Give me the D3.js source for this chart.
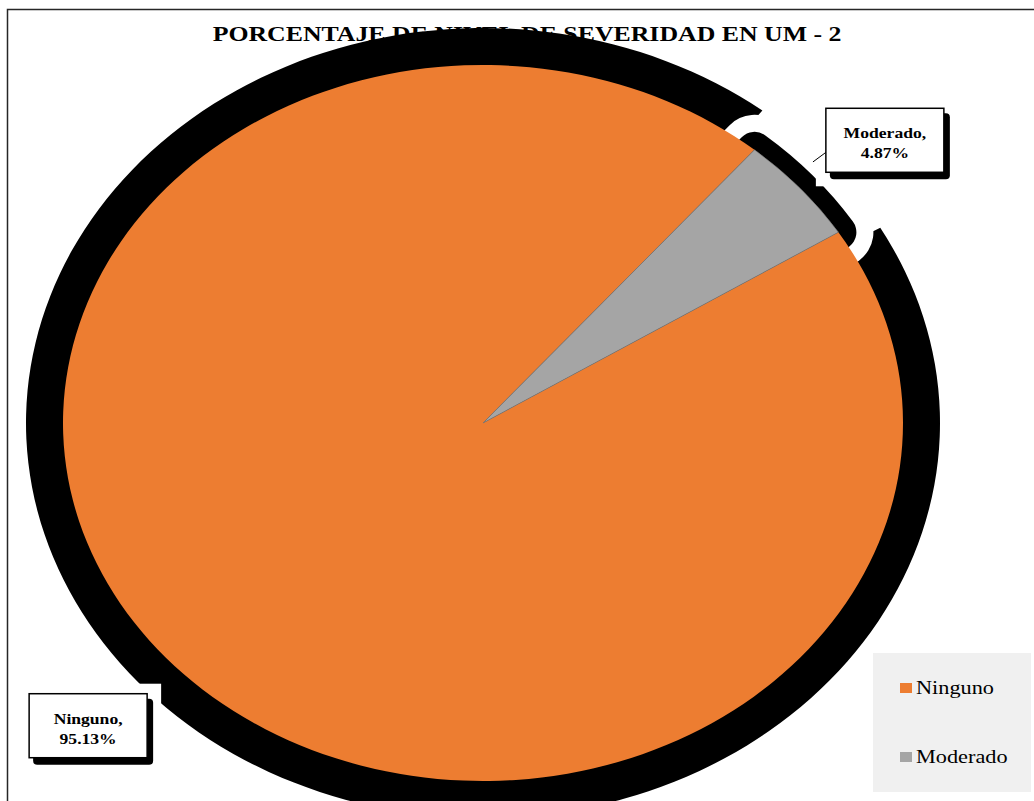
<!DOCTYPE html>
<html>
<head>
<meta charset="utf-8">
<script src="https://cdn.jsdelivr.net/npm/d3@7"></script>
<style>
  body { margin: 0; background: #fff; }
  svg { display: block; }
</style>
</head>
<body>
<div id="chart"></div>
<script>
// datos
const title = 'PORCENTAJE DE NIVEL DE SEVERIDAD EN UM - 2'
const categories = ['Ninguno', 'Moderado']
const values = [95.13, 4.87]
const valueLabels = ['95.13%', '4.87%']
const colors = ['#ED7D31', '#A5A5A5']

const W = 1034, H = 801
const cx = 483, cy = 423
const ry = 358, rx = 420
const k = rx / ry            // el gráfico original está estirado en horizontal
const shadowGrow = 37
const rot = 57.8 * Math.PI / 180
const serif = "'Liberation Serif', 'Times New Roman', serif"

const svg = d3.select('#chart').append('svg').attr('width', W).attr('height', H)

// marco
svg.append('rect').attr('x', 7.5).attr('y', 9.5).attr('width', W).attr('height', H)
  .attr('fill', 'none').attr('stroke', '#262626').attr('stroke-width', 1.5)

// título (queda debajo de la sombra)
svg.append('g').attr('transform', `translate(527, 41) scale(${k},1)`)
  .append('text').text(title)
  .attr('text-anchor', 'middle')
  .style('font-family', serif).style('font-weight', 'bold').style('font-size', '22px')
  .style('fill', '#000')

const pie = d3.pie().sort(null).value(d => d).startAngle(rot).endAngle(rot + 2 * Math.PI)
const arcs = pie(values)
const arc = d3.arc().innerRadius(0).outerRadius(ry)
const shadowR = ry + shadowGrow
const shadowArc = d3.arc().innerRadius(0).outerRadius(shadowR).padAngle(0.09).padRadius(shadowR)

// sombras
const sk = (rx + shadowGrow) / shadowR
svg.append('g').attr('transform', `translate(${cx},${cy}) scale(${sk},1)`)
  .append('path').attr('d', shadowArc(arcs[0])).attr('fill', '#000')

const pieG = svg.append('g').attr('transform', `translate(${cx},${cy}) scale(${k},1)`)
pieG.append('path').attr('d', arc(arcs[1]))
  .attr('fill', '#fff').attr('stroke', '#fff').attr('stroke-width', 70)
  .attr('stroke-linejoin', 'round').attr('vector-effect', 'non-scaling-stroke')
pieG.append('path').attr('d', arc(arcs[1]))
  .attr('fill', '#000').attr('stroke', '#000').attr('stroke-width', 36)
  .attr('stroke-linejoin', 'round').attr('vector-effect', 'non-scaling-stroke')

// etiquetas: posición
const labelArc = d3.arc().innerRadius(448).outerRadius(448)
const boxW = 118, boxH = 64
const labelShift = [[2, 9], [5, 11]]
const labelPos = arcs.map((a, i) => {
  const c = labelArc.centroid(a)
  return [cx + c[0] * k + labelShift[i][0], cy + c[1] + labelShift[i][1]]
})

// fondo blanco de las etiquetas
labelPos.forEach(p => {
  svg.append('rect').attr('x', p[0] - boxW / 2 - 10).attr('y', p[1] - boxH / 2 - 10)
    .attr('width', boxW + 24).attr('height', boxH + 24).attr('fill', '#fff')
})

// sectores
pieG.selectAll('path.slice').data(arcs).enter().append('path')
  .classed('slice', true)
  .attr('d', arc)
  .attr('fill', (d, i) => colors[i])
  .attr('stroke', (d, i) => i === 1 ? '#7a7a7a' : 'none')
  .attr('stroke-width', 0.6)
  .attr('vector-effect', 'non-scaling-stroke')

// línea guía de Moderado
const l1 = d3.arc().innerRadius(386).outerRadius(386).centroid(arcs[1])
const l2 = d3.arc().innerRadius(404).outerRadius(404).centroid(arcs[1])
svg.append('line')
  .attr('x1', cx + l1[0] * k - 12).attr('y1', cy + l1[1] - 8)
  .attr('x2', cx + l2[0] * k - 12).attr('y2', cy + l2[1] - 8)
  .attr('stroke', '#000').attr('stroke-width', 1)

// cajas de etiquetas
labelPos.forEach((p, i) => {
  const g = svg.append('g').attr('transform', `translate(${p[0] - boxW / 2},${p[1] - boxH / 2})`)
  g.append('rect').attr('x', 4).attr('y', 5).attr('width', boxW + 2).attr('height', boxH + 2)
    .attr('rx', 4).attr('fill', '#000')
  g.append('rect').attr('x', 0).attr('y', 0).attr('width', boxW).attr('height', boxH)
    .attr('fill', '#fff').attr('stroke', '#000').attr('stroke-width', 1.5)
  const lines = [categories[i] + ',', valueLabels[i]]
  lines.forEach((t, j) => {
    g.append('g').attr('transform', `translate(${boxW / 2}, ${boxH / 2 - 2 + j * 20}) scale(${k},1)`)
      .append('text').text(t).attr('text-anchor', 'middle')
      .style('font-family', serif).style('font-weight', 'bold').style('font-size', '15px')
      .style('fill', '#000')
  })
})

// leyenda
const legend = svg.append('g').attr('transform', 'translate(873, 653)')
legend.append('rect').attr('width', 158).attr('height', 139).attr('fill', '#F0F0F0')
categories.forEach((c, i) => {
  const y = 35 + i * 69
  legend.append('rect').attr('x', 27).attr('y', y - 5).attr('width', 12).attr('height', 10)
    .attr('fill', colors[i])
  legend.append('g').attr('transform', `translate(43, ${y + 6}) scale(${k},1)`)
    .append('text').text(c)
    .style('font-family', serif).style('font-size', '19px').style('fill', '#000')
})
</script>
</body>
</html>
